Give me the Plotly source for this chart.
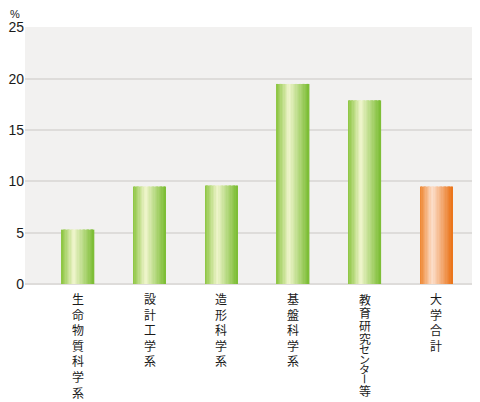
import plotly.graph_objects as go

categories = ['生命物質科学系', '設計工学系', '造形科学系', '基盤科学系', '教育研究センター等', '大学合計']
values = [5.3, 9.5, 9.6, 19.5, 17.9, 9.5]
kinds = ['dept', 'dept', 'dept', 'dept', 'dept', 'total']
y_ticks = [0, 5, 10, 15, 20, 25]

# horizontal gradient colour stops (fraction across bar, rgb)
green_stops = [(0.0, (138, 196, 62)), (0.38, (240, 245, 205)), (1.0, (122, 188, 50))]
orange_stops = [(0.0, (238, 132, 45)), (0.38, (252, 224, 205)), (1.0, (234, 114, 22))]


def color_at(stops, t):
    for (t0, c0), (t1, c1) in zip(stops, stops[1:]):
        if t0 <= t <= t1:
            f = (t - t0) / (t1 - t0)
            return 'rgb(%d,%d,%d)' % tuple(round(a + (b - a) * f) for a, b in zip(c0, c1))
    return 'rgb(%d,%d,%d)' % stops[-1][1]


x_idx = list(range(len(categories)))
bar_w = 0.45
n_strips = 24
strip_w = bar_w / n_strips

fig = go.Figure()
for i in range(n_strips):
    t = (i + 0.5) / n_strips
    cols = [color_at(green_stops if k == 'dept' else orange_stops, t) for k in kinds]
    fig.add_trace(go.Bar(
        x=x_idx, y=values,
        width=strip_w * 1.15,
        offset=-bar_w / 2 + i * strip_w,
        marker=dict(color=cols, line=dict(width=0)),
        showlegend=False, hoverinfo='skip',
    ))

SMALL = 'センター'
label_font = dict(family='Noto Sans CJK JP', color='#1a1a1a')

# category labels written vertically
annotations = []
for i, label in enumerate(categories):
    if len(label) <= 7:
        annotations.append(dict(
            text='<br>'.join(label), x=i, xref='x', y=0, yref='paper',
            xanchor='center', yanchor='top', yshift=-5, borderpad=0,
            showarrow=False, font=dict(size=12, **label_font),
        ))
        continue
    # the long label is packed tighter: one character per annotation
    pos = 9.2
    for ch in label:
        small = ch in SMALL
        h = 10 if small else 12.8
        pos += h / 2
        annotations.append(dict(
            text=ch, x=i, xref='x', y=0, yref='paper',
            xanchor='center', yanchor='middle', yshift=-pos,
            height=h, borderpad=0,
            textangle=90 if ch == 'ー' else 0,
            showarrow=False, font=dict(size=11 if small else 12, **label_font),
        ))
        pos += h / 2

annotations.append(dict(
    text='%', x=0, y=1, xref='paper', yref='paper',
    xanchor='left', yanchor='top', xshift=-17, yshift=21,
    showarrow=False, font=dict(size=11, color='#1a1a1a'),
))

# the page puts the plot 8px in from the top-left corner, so the figure is
# sized 8px smaller and its margins are shifted to match
fig.update_layout(
    width=472, height=394,
    margin=dict(l=17, r=0, t=19, b=118),
    barmode='overlay',
    paper_bgcolor='white',
    plot_bgcolor='#f2f1f0',
    font=dict(family='Liberation Sans, Arial, sans-serif', color='#1a1a1a'),
    xaxis=dict(
        range=[-0.739, 5.607], automargin=False,
        showticklabels=False, ticks='', showgrid=False, zeroline=False,
        fixedrange=True,
    ),
    yaxis=dict(
        range=[0, 25.05], automargin=False,
        tickmode='array', tickvals=y_ticks,
        tickfont=dict(size=14, color='#1a1a1a'), ticklabelstandoff=0,
        ticks='', showgrid=True, gridcolor='#dedcda', gridwidth=1.5,
        zeroline=True, zerolinecolor='#dedcda', zerolinewidth=1.5,
        fixedrange=True,
    ),
    annotations=annotations,
)

fig.write_html("out.html")
